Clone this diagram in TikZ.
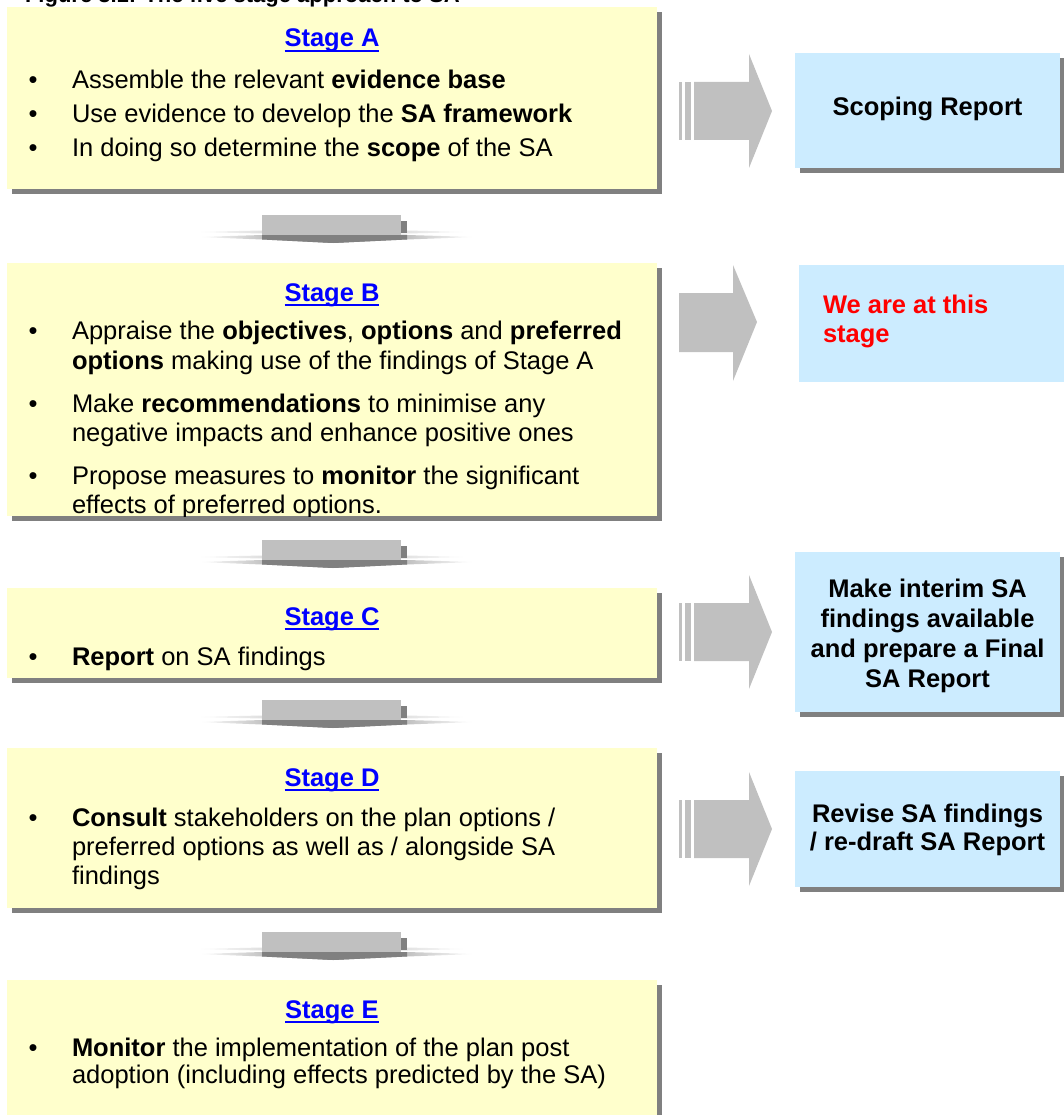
\documentclass[tikz,border=0pt]{standalone}
\usepackage{fontspec}
\setmainfont{Liberation Sans}
\usetikzlibrary{shadows}
\definecolor{ybg}{HTML}{FFFFCC}
\definecolor{bbg}{HTML}{CCECFF}
\definecolor{shd}{HTML}{808080}
\definecolor{agray}{HTML}{C0C0C0}
\definecolor{lnk}{HTML}{0000FF}
\definecolor{redtxt}{HTML}{FF0000}
\begin{document}
\begin{tikzpicture}[x=1pt,y=-1pt,
  every node/.style={inner sep=0pt, outer sep=0pt},
  txt/.style={anchor=base west, font=\fontsize{25.5}{29}\selectfont},
  bul/.style={anchor=base, font=\fontsize{25.5}{29}\selectfont},
  stitle/.style={anchor=base, font=\fontsize{25.5}{29}\selectfont\bfseries, text=lnk},
  ulstyle/.style={draw=lnk, line width=2pt},
  btxt/.style={anchor=base, font=\fontsize{25.5}{29}\selectfont\bfseries},
  ybox/.style={fill=ybg, anchor=north west, minimum width=650pt,
     drop shadow={shadow xshift=5pt, shadow yshift=-5pt, fill=shd, opacity=1}},
  bbox/.style={fill=bbg, anchor=north west, minimum width=265pt,
     drop shadow={shadow xshift=5pt, shadow yshift=-5pt, fill=shd, opacity=1}},
  arrowfill/.style={fill=agray},
]
\useasboundingbox (0,0) rectangle (1063,1115);

% title (cut off at top)
\node[anchor=base west, font=\fontsize{22}{26}\selectfont\bfseries] (fig) at (25,3) {Figure 3.1: The five stage approach to SA};

% ---------- stage boxes ----------
\node[ybox, minimum height=182pt] (boxA) at (7,7) {};
\node[ybox, minimum height=253pt] (boxB) at (7,263) {};
\node[ybox, minimum height=90pt]  (boxC) at (7,588) {};
\node[ybox, minimum height=160pt] (boxD) at (7,748) {};
\node[ybox, minimum height=145pt] (boxE) at (7,980) {};

% ---------- right boxes ----------
\node[bbox, minimum height=115pt] (rA) at (795,53) {};
\node[fill=bbg, anchor=north west, minimum width=267pt, minimum height=117pt] (rB) at (799,265) {};
\node[bbox, minimum height=160pt] (rC) at (795,552) {};
\node[bbox, minimum height=116pt] (rD) at (795,771) {};

% ---------- Stage A ----------
\node[stitle] (tA) at (332,47) {Stage A};
\draw[ulstyle] ([yshift=-4pt]tA.base west) -- ([yshift=-4pt]tA.base east);
\node[bul] (bA1) at (33,89) {•};
\node[txt] (lA1) at (72,89) {Assemble the relevant \textbf{evidence base}};
\node[bul] (bA2) at (33,123) {•};
\node[txt] (lA2) at (72,123) {Use evidence to develop the \textbf{SA framework}};
\node[bul] (bA3) at (33,157) {•};
\node[txt] (lA3) at (72,157) {In doing so determine the \textbf{scope} of the SA};

% ---------- Stage B ----------
\node[stitle] (tB) at (332,301) {Stage B};
\draw[ulstyle] ([yshift=-4pt]tB.base west) -- ([yshift=-4pt]tB.base east);
\begin{scope}
\clip (7,263) rectangle (657,516);
\node[bul] (bB1) at (33,339) {•};
\node[txt] (lB1) at (72,339) {Appraise the \textbf{objectives}, \textbf{options} and \textbf{preferred}};
\node[txt] (lB2) at (72,369) {\textbf{options} making use of the findings of Stage A};
\node[bul] (bB2) at (33,412) {•};
\node[txt] (lB3) at (72,412) {Make \textbf{recommendations} to minimise any};
\node[txt] (lB4) at (72,441) {negative impacts and enhance positive ones};
\node[bul] (bB3) at (33,484) {•};
\node[txt] (lB5) at (72,484) {Propose measures to \textbf{monitor} the significant};
\node[txt] (lB6) at (72,513) {effects of preferred options.};
\end{scope}

% ---------- Stage C ----------
\node[stitle] (tC) at (332,625) {Stage C};
\draw[ulstyle] ([yshift=-4pt]tC.base west) -- ([yshift=-4pt]tC.base east);
\node[bul] (bC1) at (33,665) {•};
\node[txt] (lC1) at (72,665) {\textbf{Report} on SA findings};

% ---------- Stage D ----------
\node[stitle] (tD) at (332,786) {Stage D};
\draw[ulstyle] ([yshift=-4pt]tD.base west) -- ([yshift=-4pt]tD.base east);
\node[bul] (bD1) at (33,826) {•};
\node[txt] (lD1) at (72,826) {\textbf{Consult} stakeholders on the plan options /};
\node[txt] (lD2) at (72,855) {preferred options as well as / alongside SA};
\node[txt] (lD3) at (72,884) {findings};

% ---------- Stage E ----------
\node[stitle] (tE) at (332,1018) {Stage E};
\draw[ulstyle] ([yshift=-4pt]tE.base west) -- ([yshift=-4pt]tE.base east);
\node[bul] (bE1) at (33,1056) {•};
\node[txt] (lE1) at (72,1056) {\textbf{Monitor} the implementation of the plan post};
\node[txt] (lE2) at (72,1083) {adoption (including effects predicted by the SA)};

% ---------- right box texts ----------
\node[btxt] (sA) at (927.5,116) {Scoping Report};
\node[anchor=base west, font=\fontsize{25.5}{29}\selectfont\bfseries, text=redtxt] (sB1) at (823,313) {We are at this};
\node[anchor=base west, font=\fontsize{25.5}{29}\selectfont\bfseries, text=redtxt] (sB2) at (823,342) {stage};
\node[btxt] (sC1) at (927.5,597) {Make interim SA};
\node[btxt] (sC2) at (927.5,627) {findings available};
\node[btxt] (sC3) at (927.5,657) {and prepare a Final};
\node[btxt] (sC4) at (927.5,687) {SA Report};
\node[btxt] (sD1) at (927.5,822) {Revise SA findings};
\node[btxt] (sD2) at (927.5,850) {/ re-draft SA Report};

% ---------- right arrows ----------
\foreach \ty in {111,632,829}{
  \begin{scope}[shift={(0,\ty)}]
    \fill[arrowfill] (679,-29) rectangle (682,29);
    \fill[arrowfill] (685,-29) rectangle (691,29);
    \fill[arrowfill] (694,-29) -- (749,-29) -- (749,-57) -- (772,0) -- (749,57) -- (749,29) -- (694,29) -- cycle;
  \end{scope}
}
\begin{scope}[shift={(0,322)}]
  \fill[arrowfill] (679,-29) -- (733,-29) -- (733,-57) -- (757,0) -- (733,59) -- (733,30) -- (679,30) -- cycle;
\end{scope}

% ---------- down arrows ----------
\foreach \ty in {215,540,700,932}{
  \begin{scope}[shift={(0,\ty)}]
    \shade[left color=white, right color=white, middle color=agray]
      (193,17) -- (262,15.5) -- (407,15.5) -- (470,17) -- (407,18.5) -- (262,18.5) -- cycle;
    \shade[left color=white, right color=white, middle color=shd]
      (198,22) -- (262,20) -- (407,20) -- (475,22) -- (407,24.5) -- (333,28) -- (262,24.5) -- cycle;
    \fill[shd] (262,20) -- (407,20) -- (407,24.5) -- (333,28) -- (262,24.5) -- cycle;
    \fill[agray] (262,0) rectangle (401,20);
    \fill[shd] (401,6) rectangle (407,18);
  \end{scope}
}
\end{tikzpicture}
\end{document}
